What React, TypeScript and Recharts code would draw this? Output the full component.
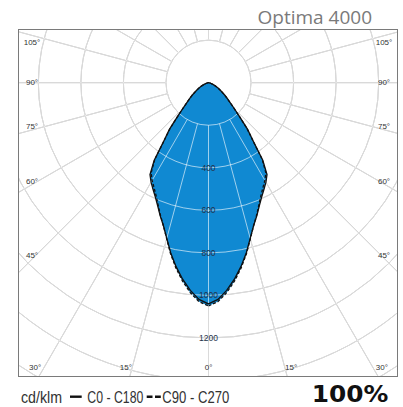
import React from "react";
import {
  RadarChart,
  Radar,
  PolarGrid,
  PolarAngleAxis,
  PolarRadiusAxis,
} from "recharts";

// gamma angles (deg from nadir) and intensities in cd/klm
const GAMMA = [
  0, 2.5, 5, 7.5, 10, 12.5, 15, 17.5, 20, 22.5, 25, 27.5, 30, 32.5, 35, 37.5, 40, 42.5,
  45, 47.5, 50, 52.5, 55, 57.5, 60, 65, 70, 75, 80, 85, 90,
  95, 100, 105, 110, 115, 120, 125, 130, 135, 140, 145, 150, 155, 160, 165, 170, 175, 180,
];
const C0_C180 = [
  1040, 1020, 980, 932, 878, 820, 758, 705, 665, 625, 592, 565, 540, 512, 445, 345, 285, 215,
  170, 138, 115, 97, 80, 66, 55, 35, 20, 10, 5, 2, 0,
  0, 0, 0, 0, 0, 0, 0, 0, 0, 0, 0, 0, 0, 0, 0, 0, 0, 0,
];
const C90_C270 = [
  1050, 1030, 990, 940, 884, 824, 760, 705, 662, 620, 584, 555, 530, 502, 440, 342, 282, 213,
  168, 137, 114, 96, 79, 65, 54, 34, 19, 10, 5, 2, 0,
  0, 0, 0, 0, 0, 0, 0, 0, 0, 0, 0, 0, 0, 0, 0, 0, 0, 0,
];

const RING_TICKS = [200, 400, 600, 800, 1000, 1200, 1400, 1600, 1800];
const RING_LABELS = [400, 600, 800, 1000, 1200];
const ANGLE_TICKS = [0, 15, 30, 45, 60, 75, 90, 105, 120, 135, 150, 165, 180, 195, 210, 225, 240, 255, 270, 285, 300, 315, 330, 345];
const SIDE_LABELS = [105, 90, 75, 60, 45];
const BOTTOM_LABELS = [-30, -15, 0, 15, 30];

const BLUE = "#1089d2";

// frame / chart geometry
const FX = 19;
const FY = 30;
const W = 378;
const H = 346;
const CX = 189.5;
const CY = 52.7;
const PX_PER_CD = 0.2127;

// right half = C0 / C90, left half = C180 / C270 (symmetric)
const table = [
  ...GAMMA.map((g, i) => ({ theta: g, c0: C0_C180[i], c90: C90_C270[i] })),
  ...GAMMA.slice(1, -1)
    .map((g, i) => ({ theta: 360 - g, c0: C0_C180[i + 1], c90: C90_C270[i + 1] }))
    .reverse(),
];

const RingTick = (props: any) => {
  const { x, y, payload } = props;
  if (!RING_LABELS.includes(payload.value)) return <g />;
  return (
    <text
      x={x}
      y={y}
      textAnchor="middle"
      dominantBaseline="central"
      fontSize={8.5}
      fontFamily="'Liberation Sans', sans-serif"
      fill="#24324a"
    >
      {payload.value}
    </text>
  );
};

const labelStyle: React.CSSProperties = {
  position: "absolute",
  transform: "translate(-50%, -50%)",
  fontSize: 8,
  lineHeight: 1,
  fontFamily: "'Liberation Sans', sans-serif",
  color: "#333",
  whiteSpace: "nowrap",
};

const rad = (d: number) => (d * Math.PI) / 180;

export default function App(): React.JSX.Element {
  const sideDx = CX - 13;
  const sideLabels = SIDE_LABELS.map((g) =>
    Math.max(13, CY + sideDx / Math.tan(rad(g)) - (g < 90 ? 3 : 0))
  );
  const bottomY = H - 8;

  return (
    <div
      style={{
        position: "absolute",
        left: 0,
        top: 0,
        width: 403,
        height: 407,
        background: "#fff",
        overflow: "hidden",
      }}
    >
      <div
        style={{
          position: "absolute",
          right: 403 - 372,
          top: 6,
          lineHeight: 1.2,
          fontFamily: "'Open Sans', sans-serif",
          fontSize: 19,
          color: "#7a7a7a",
          whiteSpace: "nowrap",
        }}
      >
        Optima 4000
      </div>

      <div style={{ position: "absolute", left: FX, top: FY, width: W, height: H }}>
        <RadarChart
          width={W}
          height={H}
          data={table}
          cx={CX}
          cy={CY}
          innerRadius={200 * PX_PER_CD}
          outerRadius={1800 * PX_PER_CD}
          startAngle={-90}
          endAngle={270}
          margin={{ top: 0, right: 0, bottom: 0, left: 0 }}
        >
          <PolarAngleAxis
            dataKey="theta"
            type="number"
            domain={[0, 360]}
            ticks={ANGLE_TICKS}
            tick={false}
            tickLine={false}
            axisLine={false}
          />
          <PolarRadiusAxis
            angle={-90}
            type="number"
            domain={[200, 1800]}
            ticks={RING_TICKS}
            allowDataOverflow
            axisLine={false}
            tick={RingTick}
          />
          <PolarGrid gridType="circle" stroke="#a4a4a4" strokeWidth={1} />
          <Radar
            dataKey="c0"
            fill={BLUE}
            fillOpacity={1}
            stroke="none"
            zIndex={100}
            isAnimationActive={false}
          />
          <Radar
            dataKey="c90"
            fill={BLUE}
            fillOpacity={1}
            stroke="none"
            zIndex={100}
            isAnimationActive={false}
          />
          <PolarGrid
            gridType="circle"
            stroke="#ffffff"
            strokeOpacity={0.6}
            strokeWidth={1}
            zIndex={150}
          />
          <Radar
            dataKey="c0"
            fill="none"
            fillOpacity={0}
            stroke="#111"
            strokeWidth={1.3}
            zIndex={160}
            isAnimationActive={false}
          />
          <Radar
            dataKey="c90"
            fill="none"
            fillOpacity={0}
            stroke="#111"
            strokeWidth={1.3}
            strokeDasharray="3 2"
            zIndex={160}
            isAnimationActive={false}
          />
        </RadarChart>

        {SIDE_LABELS.map((g, i) => (
          <React.Fragment key={g}>
            <div style={{ ...labelStyle, left: 13, top: sideLabels[i] }}>{g}°</div>
            <div style={{ ...labelStyle, left: W - 13, top: sideLabels[i] }}>{g}°</div>
          </React.Fragment>
        ))}
        {BOTTOM_LABELS.map((g, i) => {
          const dx = (H - CY) * Math.tan(rad(Math.abs(g)));
          const x = CX + Math.sign(g) * (dx + 4);
          return (
            <div key={i} style={{ ...labelStyle, left: x, top: bottomY }}>
              {Math.abs(g)}°
            </div>
          );
        })}
      </div>

      <div
        style={{
          position: "absolute",
          left: FX - 1,
          top: FY - 1,
          width: W + 2,
          height: H + 2,
          boxSizing: "border-box",
          border: "1.5px solid #7a7a7a",
          pointerEvents: "none",
        }}
      />

      <svg
        style={{ position: "absolute", left: 0, top: 378 }}
        width={403}
        height={29}
      >
        <g fontFamily="'Liberation Sans', sans-serif" fontSize={17} fill="#333">
          <text x={21} y={24.5} textLength={41} lengthAdjust="spacingAndGlyphs">
            cd/klm
          </text>
          <text x={87.3} y={24.5} textLength={56} lengthAdjust="spacingAndGlyphs">
            C0 - C180
          </text>
          <text x={162.3} y={24.5} textLength={67} lengthAdjust="spacingAndGlyphs">
            C90 - C270
          </text>
        </g>
        <line x1={70} y1={18.7} x2={81.7} y2={18.7} stroke="#111" strokeWidth={2.4} />
        <line x1={146.7} y1={18.7} x2={161} y2={18.7} stroke="#111" strokeWidth={2.4} strokeDasharray="5.8 2.5" />
        <text
          x={311.7}
          y={23.5}
          textLength={76.6}
          lengthAdjust="spacingAndGlyphs"
          fontFamily="'DejaVu Sans', sans-serif"
          fontWeight={700}
          fontSize={22.5}
          fill="#111"
        >
          100%
        </text>
      </svg>
    </div>
  );
}
